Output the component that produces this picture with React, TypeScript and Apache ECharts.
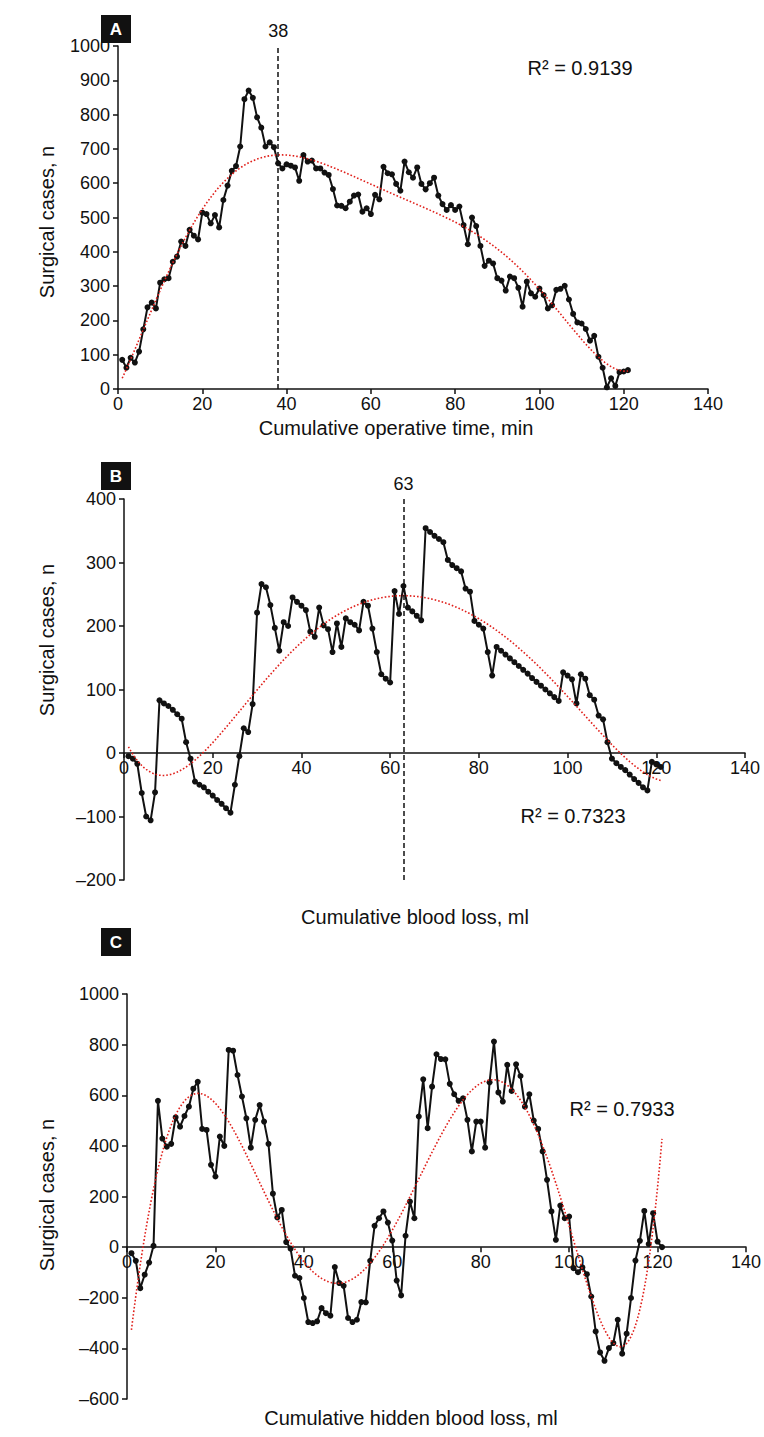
import React, { useEffect, useRef } from "react";
import * as echarts from "echarts";

// Panel A: cumulative operative time
const valuesA = [
  85, 62, 91, 77, 109, 174, 238, 252, 235, 310,
  320, 323, 371, 386, 430, 417, 464, 447, 436, 514,
  510, 483, 507, 471, 551, 593, 636, 650, 707, 845,
  870, 849, 792, 762, 707, 719, 705, 658, 643, 655,
  651, 646, 607, 682, 663, 666, 643, 643, 631, 624,
  583, 535, 534, 527, 546, 564, 567, 517, 527, 510,
  566, 553, 648, 629, 626, 598, 578, 663, 632, 616,
  646, 598, 582, 600, 616, 564, 539, 522, 536, 522,
  532, 478, 422, 500, 475, 417, 359, 374, 366, 323,
  316, 287, 328, 323, 295, 240, 313, 279, 269, 293,
  274, 235, 244, 289, 292, 301, 261, 219, 194, 191,
  175, 141, 155, 94, 62, 5, 31, 9, 49, 51,
  55,
];

// Panel B: cumulative blood loss
const valuesB = [
  -5, -9, -17, -63, -100, -106, -62, 83, 78, 74,
  68, 61, 54, 17, -9, -45, -50, -54, -61, -67,
  -74, -80, -87, -94, -50, -5, 39, 33, 77, 221,
  266, 261, 233, 197, 161, 206, 200, 245, 238, 232,
  225, 191, 183, 229, 201, 195, 159, 204, 167, 212,
  206, 202, 193, 238, 232, 196, 159, 124, 117, 111,
  255, 219, 263, 229, 223, 216, 209, 354, 348, 342,
  337, 332, 304, 296, 291, 286, 259, 254, 208, 202,
  196, 159, 122, 167, 161, 155, 149, 143, 137, 131,
  125, 118, 112, 106, 100, 94, 88, 82, 127, 122,
  116, 78, 124, 117, 91, 84, 59, 53, 17, -9,
  -16, -22, -27, -34, -41, -47, -54, -59, -14, -18,
  -22,
];

// Panel C: cumulative hidden blood loss
const valuesC = [
  -24, -54, -162, -109, -61, 5, 578, 429, 397, 408,
  513, 476, 518, 555, 626, 653, 467, 463, 325, 279,
  437, 400, 779, 776, 680, 595, 509, 393, 503, 561,
  496, 408, 211, 117, 147, 20, -6, -113, -122, -201,
  -296, -300, -293, -241, -261, -271, -79, -142, -153, -280,
  -296, -287, -217, -218, -54, 84, 114, 141, 97, 26,
  -132, -191, 45, 180, 114, 516, 663, 470, 634, 762,
  743, 742, 645, 604, 578, 588, 503, 378, 496, 496,
  393, 651, 812, 611, 575, 720, 617, 722, 676, 555,
  604, 500, 467, 378, 266, 141, 29, 164, 114, 121,
  -83, -99, -80, -107, -195, -333, -416, -449, -399, -379,
  -287, -421, -342, -201, -53, 25, 143, 12, 134, 22,
  0,
];

const cutoffA = 38;
const cutoffB = 63;
const r2Labels = ["R² = 0.9139", "R² = 0.7323", "R² = 0.7933"];
const panelLetters = ["A", "B", "C"];
const xNames = [
  "Cumulative operative time, min",
  "Cumulative blood loss, ml",
  "Cumulative hidden blood loss, ml",
];
const yName = "Surgical cases, n";
const xTicks = { min: 0, max: 140, interval: 20 };
const yTicksA = { min: 0, max: 1000, interval: 100 };
const yTicksB = { min: -200, max: 400, interval: 100 };
const yTicksC = { min: -600, max: 1000, interval: 200 };
const trendDegree = [6, 6, 6];

const FONT = "'Liberation Sans', Arial, 'DejaVu Sans', sans-serif";
const INK = "#111";

const grids = [
  { left: 118, top: 46, width: 590, height: 343 },
  { left: 124, top: 499, width: 621, height: 381 },
  { left: 127, top: 994, width: 621, height: 405 },
];

function polyfit(xs: number[], ys: number[], deg: number) {
  const lo = Math.min(...xs);
  const hi = Math.max(...xs);
  const mx = (lo + hi) / 2;
  const sx = (hi - lo) / 2;
  const m = deg + 1;
  const M: number[][] = Array.from({ length: m }, () => new Array(m + 1).fill(0));
  for (let k = 0; k < xs.length; k++) {
    const t = (xs[k] - mx) / sx;
    const p: number[] = [];
    let v = 1;
    for (let j = 0; j < m; j++) {
      p.push(v);
      v *= t;
    }
    for (let i = 0; i < m; i++) {
      for (let j = 0; j < m; j++) M[i][j] += p[i] * p[j];
      M[i][m] += p[i] * ys[k];
    }
  }
  for (let c = 0; c < m; c++) {
    let piv = c;
    for (let r = c + 1; r < m; r++) if (Math.abs(M[r][c]) > Math.abs(M[piv][c])) piv = r;
    const tmp = M[c];
    M[c] = M[piv];
    M[piv] = tmp;
    for (let r = 0; r < m; r++) {
      if (r === c) continue;
      const f = M[r][c] / M[c][c];
      for (let j = c; j <= m; j++) M[r][j] -= f * M[c][j];
    }
  }
  const coef = M.map((row, i) => row[m] / row[i]);
  return (x: number) => {
    const t = (x - mx) / sx;
    let v = 0;
    let p = 1;
    for (let j = 0; j < m; j++) {
      v += coef[j] * p;
      p *= t;
    }
    return v;
  };
}

function trendPoints(values: number[], deg: number) {
  const xs = values.map((_, i) => i + 1);
  const f = polyfit(xs, values, deg);
  const out: number[][] = [];
  for (let x = xs[0]; x <= xs[xs.length - 1] + 1e-9; x += 0.5) out.push([x, f(x)]);
  return out;
}

const fmt = (v: number) => (v < 0 ? "\u2013" + Math.abs(v) : String(v));

function xAxisCfg(gi: number, yTicks: { min: number; max: number }) {
  // place the x axis (line, ticks and labels) at y = 0 of its panel
  const zeroOffset = -grids[gi].height * ((0 - yTicks.min) / (yTicks.max - yTicks.min));
  return {
    type: "value",
    gridIndex: gi,
    ...xTicks,
    offset: zeroOffset,
    axisLine: { onZero: false, lineStyle: { color: INK, width: 1.5 } },
    axisTick: { show: true, inside: false, length: 5, lineStyle: { color: INK, width: 1.5 } },
    axisLabel: { color: INK, fontSize: 18, fontFamily: FONT, margin: 6 },
    splitLine: { show: false },
  };
}

function yAxisCfg(gi: number, ticks: any) {
  return {
    type: "value",
    gridIndex: gi,
    ...ticks,
    axisLine: { show: true, onZero: false, lineStyle: { color: INK, width: 1.5 } },
    axisTick: { show: true, inside: false, length: 5, lineStyle: { color: INK, width: 1.5 } },
    axisLabel: { color: INK, fontSize: 18, fontFamily: FONT, margin: 8, formatter: fmt },
    splitLine: { show: false },
  };
}

function dataSeries(gi: number, values: number[], cutoff?: number) {
  const s: any = {
    type: "line",
    xAxisIndex: gi,
    yAxisIndex: gi,
    data: values.map((v, i) => [i + 1, v]),
    symbol: "circle",
    symbolSize: 6,
    showSymbol: true,
    itemStyle: { color: INK },
    lineStyle: { color: INK, width: 2 },
    z: 3,
  };
  if (cutoff !== undefined) {
    s.markLine = {
      silent: true,
      symbol: ["none", "none"],
      lineStyle: { color: INK, type: [5, 3], width: 1.5 },
      label: {
        show: true,
        position: "end",
        formatter: String(cutoff),
        color: INK,
        fontSize: 18,
        fontFamily: FONT,
        distance: 6,
      },
      data: [{ xAxis: cutoff }],
    };
  }
  return s;
}

function trendSeries(gi: number, values: number[], deg: number) {
  return {
    type: "line",
    xAxisIndex: gi,
    yAxisIndex: gi,
    data: trendPoints(values, deg),
    showSymbol: false,
    symbol: "none",
    lineStyle: { color: "#e0201b", width: 1.6, type: [1.6, 2] },
    z: 4,
  };
}

function textEl(text: string, x: number, y: number, size: number, extra: any = {}) {
  return {
    type: "text",
    x,
    y,
    style: {
      text,
      fill: INK,
      font: `${size}px ${FONT}`,
      textAlign: "center",
      textVerticalAlign: "middle",
    },
    ...extra,
  };
}

function letterBox(letter: string, x: number, y: number) {
  return {
    type: "group",
    children: [
      { type: "rect", shape: { x, y, width: 30, height: 28 }, style: { fill: "#111" } },
      {
        type: "text",
        x: x + 15,
        y: y + 14.5,
        style: {
          text: letter,
          fill: "#fff",
          font: `bold 17px ${FONT}`,
          textAlign: "center",
          textVerticalAlign: "middle",
        },
      },
    ],
  };
}

export default function App() {
  const ref = useRef<HTMLDivElement>(null);
  useEffect(() => {
    if (!ref.current) return;
    const chart = echarts.init(ref.current, undefined, { renderer: "svg" });
    const option: any = {
      animation: false,
      backgroundColor: "#fff",
      grid: grids,
      xAxis: [xAxisCfg(0, yTicksA), xAxisCfg(1, yTicksB), xAxisCfg(2, yTicksC)],
      yAxis: [yAxisCfg(0, yTicksA), yAxisCfg(1, yTicksB), yAxisCfg(2, yTicksC)],
      series: [
        dataSeries(0, valuesA, cutoffA),
        trendSeries(0, valuesA, trendDegree[0]),
        dataSeries(1, valuesB, cutoffB),
        trendSeries(1, valuesB, trendDegree[1]),
        dataSeries(2, valuesC),
        trendSeries(2, valuesC, trendDegree[2]),
      ],
      graphic: [
        letterBox(panelLetters[0], 101, 15),
        letterBox(panelLetters[1], 101, 462),
        letterBox(panelLetters[2], 101, 928),
        textEl(yName, 47, 222, 20, { rotation: Math.PI / 2 }),
        textEl(yName, 47, 640, 20, { rotation: Math.PI / 2 }),
        textEl(yName, 47, 1195, 20, { rotation: Math.PI / 2 }),
        textEl(xNames[0], 396, 428, 20),
        textEl(xNames[1], 415, 917, 20),
        textEl(xNames[2], 411, 1418, 20),
        textEl(r2Labels[0], 580, 68, 20),
        textEl(r2Labels[1], 573, 816, 20),
        textEl(r2Labels[2], 622, 1109, 20),
      ],
    };
    chart.setOption(option);
    return () => chart.dispose();
  }, []);
  return (
    <div
      ref={ref}
      style={{ position: "absolute", left: 0, top: 0, width: 764, height: 1437, background: "#fff" }}
    />
  );
}
